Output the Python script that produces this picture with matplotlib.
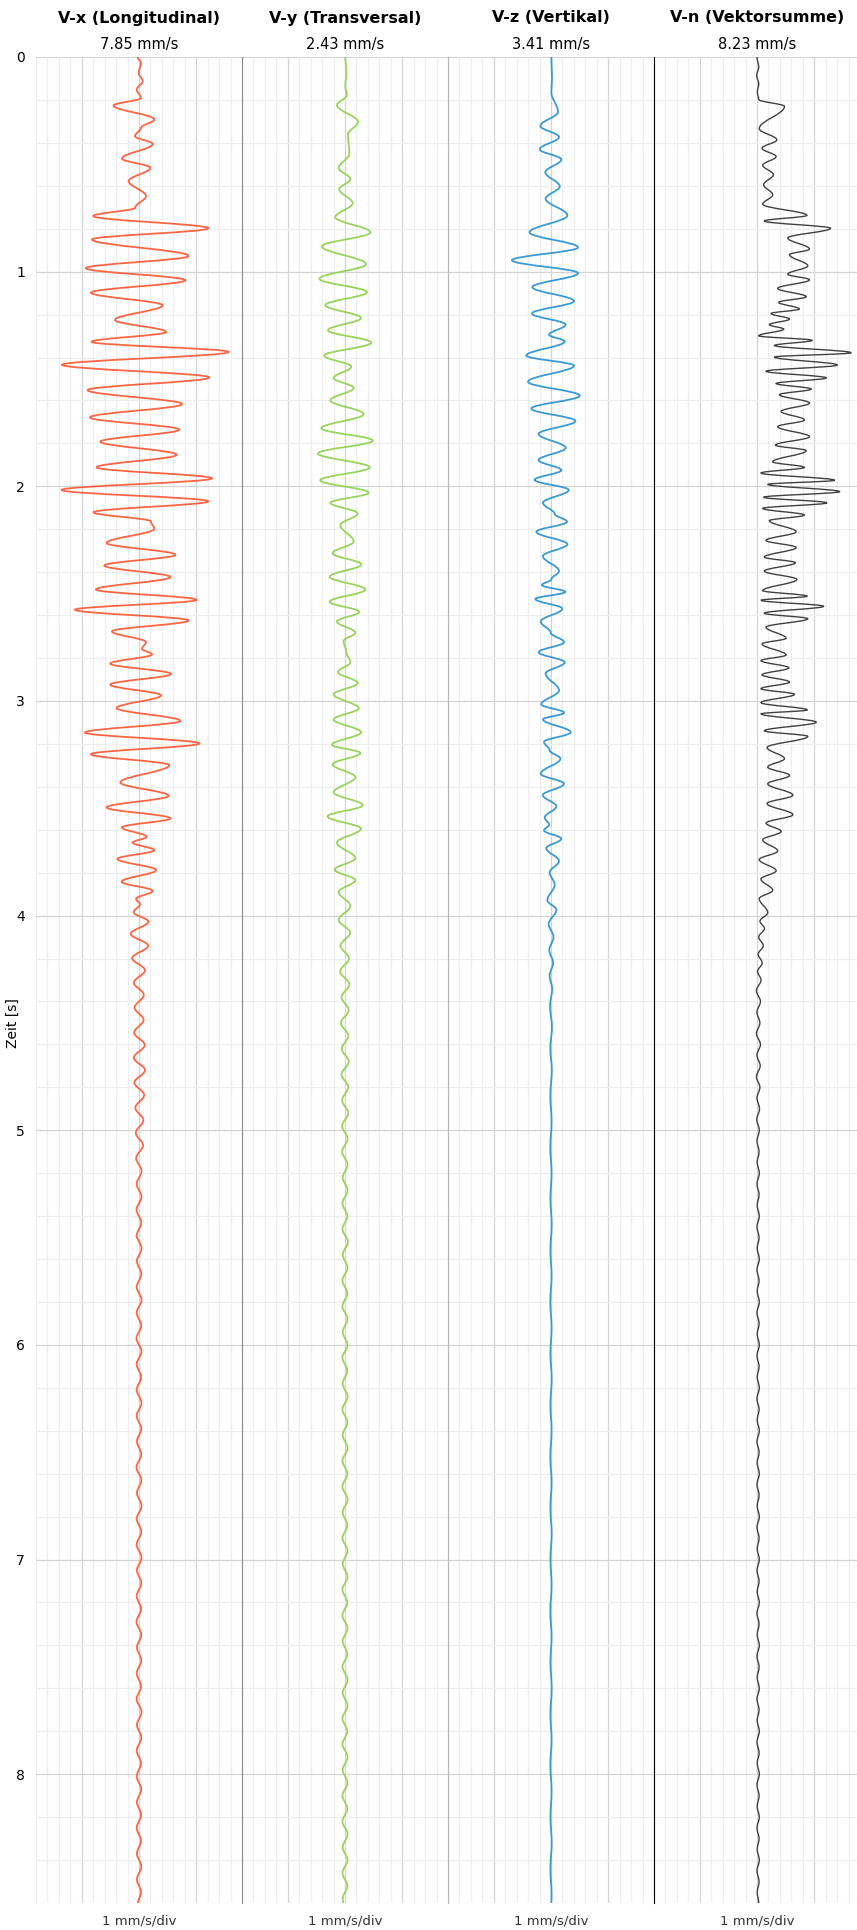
import matplotlib.pyplot as plt
from matplotlib.path import Path
from matplotlib.patches import PathPatch

# Umkehrpunkte der Messkurven: (Zeit [s], Wert [mm/s])
vx = [(0.000, -0.12), (0.028, 0.17), (0.074, -0.03), (0.113, 0.32), (0.152, -0.20), (0.191, 0.17),
      (0.226, -2.22), (0.291, 1.34), (0.330, 0.17), (0.369, -0.35), (0.405, 1.20), (0.473, -1.49),
      (0.516, 0.99), (0.578, -0.90), (0.648, 0.61), (0.702, -0.32), (0.741, -3.99), (0.798, 6.06),
      (0.850, -4.11), (0.927, 4.34), (0.984, -4.64), (1.040, 4.05), (1.098, -4.20), (1.157, 2.07),
      (1.225, -2.10), (1.281, 2.36), (1.327, -4.14), (1.374, 7.85), (1.434, -6.73), (1.493, 6.15),
      (1.552, -4.49), (1.617, 3.76), (1.679, -4.29), (1.736, 3.53), (1.792, -3.38), (1.853, 3.29),
      (1.912, -3.70), (1.963, 6.38), (2.017, -6.76), (2.070, 6.06), (2.121, -3.97), (2.164, 1.05),
      (2.198, 1.34), (2.264, -2.83), (2.319, 3.18), (2.369, -3.03), (2.423, 2.74), (2.481, -3.76),
      (2.529, 5.04), (2.575, -5.60), (2.625, 4.34), (2.676, -2.36), (2.726, 0.61), (2.757, 0.26),
      (2.783, 1.14), (2.826, -2.51), (2.874, 2.80), (2.924, -2.51), (2.974, 1.92), (3.033, -1.95),
      (3.093, 3.62), (3.147, -4.72), (3.198, 5.28), (3.248, -4.20), (3.299, 2.65), (3.380, -1.63),
      (3.442, 2.59), (3.496, -2.83), (3.547, 2.74), (3.589, -1.49), (3.633, 0.67), (3.660, -0.55),
      (3.695, 1.34), (3.736, -1.87), (3.788, 1.49), (3.842, -1.52), (3.885, 1.20), (3.922, -0.26),
      (3.947, 0.09), (3.984, -0.47), (4.028, 0.82), (4.085, -0.72), (4.140, 0.80), (4.198, -0.60),
      (4.255, 0.52), (4.312, -0.45), (4.370, 0.42), (4.428, -0.38), (4.486, 0.40), (4.545, -0.42),
      (4.603, 0.50), (4.662, -0.45), (4.720, 0.52), (4.778, -0.40), (4.836, 0.45), (4.895, -0.32),
      (4.953, 0.38), (5.012, -0.28), (5.070, 0.35), (5.130, -0.25), (5.190, 0.22), (5.250, -0.20),
      (5.310, 0.22), (5.370, -0.22), (5.430, 0.20), (5.490, -0.20), (5.550, 0.22), (5.610, -0.18),
      (5.670, 0.20), (5.730, -0.20), (5.790, 0.22), (5.850, -0.20), (5.910, 0.20), (5.970, -0.22),
      (6.030, 0.22), (6.090, -0.20), (6.150, 0.18), (6.210, -0.20), (6.270, 0.22), (6.330, -0.20),
      (6.390, 0.20), (6.450, -0.18), (6.510, 0.20), (6.570, -0.22), (6.630, 0.20), (6.690, -0.18),
      (6.750, 0.22), (6.810, -0.20), (6.870, 0.20), (6.930, -0.20), (6.990, 0.22), (7.050, -0.18),
      (7.110, 0.20), (7.170, -0.20), (7.230, 0.18), (7.290, -0.22), (7.350, 0.20), (7.410, -0.18),
      (7.470, 0.20), (7.530, -0.20), (7.590, 0.18), (7.650, -0.20), (7.710, 0.22), (7.770, -0.18),
      (7.830, 0.20), (7.890, -0.20), (7.950, 0.18), (8.010, -0.20), (8.070, 0.20), (8.130, -0.18),
      (8.190, 0.18), (8.250, -0.20), (8.310, 0.18), (8.370, -0.18), (8.430, 0.20), (8.490, -0.18),
      (8.550, 0.18), (8.600, -0.08)]

vy = [(0.000, 0.03), (0.073, 0.12), (0.138, 0.03), (0.177, 0.17), (0.224, -0.70), (0.303, 1.14),
      (0.360, 0.26), (0.451, 0.38), (0.517, -0.55), (0.569, 0.47), (0.616, -0.50), (0.681, 0.67),
      (0.746, -0.85), (0.817, 2.22), (0.882, -2.01), (0.965, 1.84), (1.033, -2.24), (1.096, 1.92),
      (1.156, -1.72), (1.216, 1.40), (1.273, -1.49), (1.331, 2.30), (1.391, -1.81), (1.443, 0.55),
      (1.495, -0.99), (1.542, 0.76), (1.599, -1.28), (1.664, 1.63), (1.730, -2.07), (1.787, 2.43),
      (1.847, -2.36), (1.912, 2.16), (1.972, -2.16), (2.030, 2.07), (2.077, -1.28), (2.126, 1.11),
      (2.181, -0.41), (2.257, 0.76), (2.312, -1.08), (2.364, 1.43), (2.421, -1.34), (2.481, 1.78),
      (2.538, -1.34), (2.585, 1.25), (2.630, -0.70), (2.682, 0.90), (2.721, -0.12), (2.773, 0.12),
      (2.820, 0.47), (2.865, -0.61), (2.917, 1.11), (2.969, -0.99), (3.034, 1.20), (3.086, -0.99),
      (3.146, 1.40), (3.204, -1.14), (3.243, 1.34), (3.295, -1.08), (3.355, 0.90), (3.426, -0.99),
      (3.486, 1.55), (3.538, -1.52), (3.595, 1.40), (3.660, -0.70), (3.733, 0.90), (3.786, -0.90),
      (3.835, 0.90), (3.890, -0.55), (3.955, 0.47), (4.020, -0.55), (4.080, 0.45), (4.140, -0.40),
      (4.200, 0.35), (4.260, -0.42), (4.320, 0.38), (4.380, -0.30), (4.440, 0.32), (4.500, -0.35),
      (4.560, 0.30), (4.620, -0.28), (4.680, 0.32), (4.740, -0.30), (4.800, 0.28), (4.860, -0.25),
      (4.920, 0.28), (4.980, -0.25), (5.040, 0.22), (5.100, -0.25), (5.160, 0.22), (5.220, -0.20),
      (5.280, 0.22), (5.340, -0.22), (5.400, 0.20), (5.460, -0.22), (5.520, 0.25), (5.580, -0.20),
      (5.640, 0.22), (5.700, -0.22), (5.760, 0.20), (5.820, -0.22), (5.880, 0.22), (5.940, -0.20),
      (6.000, 0.22), (6.060, -0.22), (6.120, 0.20), (6.180, -0.20), (6.240, 0.22), (6.300, -0.22),
      (6.360, 0.20), (6.420, -0.20), (6.480, 0.22), (6.540, -0.22), (6.600, 0.20), (6.660, -0.22),
      (6.720, 0.22), (6.780, -0.20), (6.840, 0.20), (6.900, -0.22), (6.960, 0.22), (7.020, -0.20),
      (7.080, 0.22), (7.140, -0.22), (7.200, 0.20), (7.260, -0.22), (7.320, 0.22), (7.380, -0.20),
      (7.440, 0.20), (7.500, -0.22), (7.560, 0.22), (7.620, -0.20), (7.680, 0.22), (7.740, -0.22),
      (7.800, 0.20), (7.860, -0.22), (7.920, 0.22), (7.980, -0.20), (8.040, 0.22), (8.100, -0.22),
      (8.160, 0.20), (8.220, -0.22), (8.280, 0.22), (8.340, -0.20), (8.400, 0.22), (8.460, -0.22),
      (8.520, 0.20), (8.580, -0.20), (8.600, -0.15)]

vz = [(0.000, 0.03), (0.099, 0.09), (0.164, 0.03), (0.256, 0.61), (0.321, -0.93), (0.373, 0.70),
      (0.430, -0.99), (0.477, 0.90), (0.537, -0.50), (0.603, 0.76), (0.660, -0.47), (0.738, 1.43),
      (0.817, -1.87), (0.887, 2.36), (0.947, -3.41), (1.007, 2.36), (1.072, -1.63), (1.137, 2.01),
      (1.195, -1.66), (1.247, 1.28), (1.294, -0.17), (1.325, 1.20), (1.391, -2.16), (1.438, 2.01),
      (1.513, -2.01), (1.578, 2.51), (1.638, -1.72), (1.696, 2.13), (1.756, -1.08), (1.821, 1.28),
      (1.878, -1.08), (1.925, 0.90), (1.970, -1.43), (2.017, 1.55), (2.077, -0.70), (2.129, 0.32),
      (2.165, 1.40), (2.212, -1.28), (2.270, 1.43), (2.325, -0.70), (2.395, 0.70), (2.434, 0.03),
      (2.460, -0.79), (2.492, 1.25), (2.525, -1.37), (2.570, 0.99), (2.630, -0.90), (2.682, -0.03),
      (2.726, 1.14), (2.773, -1.08), (2.820, 1.20), (2.872, -0.47), (2.951, 0.70), (3.016, -0.85),
      (3.055, 1.14), (3.086, -0.70), (3.146, 1.72), (3.191, -0.61), (3.230, -0.12), (3.269, 0.82),
      (3.339, -0.90), (3.386, 1.14), (3.439, -0.70), (3.491, 0.47), (3.543, -0.55), (3.577, -0.17),
      (3.603, -0.61), (3.642, 0.90), (3.686, -0.41), (3.746, 0.70), (3.799, -0.12), (3.856, 0.32),
      (3.929, -0.32), (3.973, 0.47), (4.039, -0.20), (4.10, 0.22), (4.16, -0.15), (4.22, 0.18),
      (4.28, -0.12), (4.34, 0.10), (4.42, -0.08), (4.52, 0.08), (4.62, -0.06), (4.72, 0.07),
      (4.84, -0.06), (4.96, 0.05), (5.08, -0.06), (5.20, 0.05), (5.32, -0.05), (5.44, 0.06),
      (5.56, -0.05), (5.68, 0.05), (5.80, -0.06), (5.92, 0.05), (6.04, -0.05), (6.16, 0.06),
      (6.28, -0.05), (6.40, 0.05), (6.52, -0.06), (6.64, 0.05), (6.76, -0.05), (6.88, 0.06),
      (7.00, -0.05), (7.12, 0.05), (7.24, -0.06), (7.36, 0.05), (7.48, -0.05), (7.60, 0.06),
      (7.72, -0.05), (7.84, 0.05), (7.96, -0.06), (8.08, 0.05), (8.20, -0.05), (8.32, 0.06),
      (8.44, -0.05), (8.56, 0.05), (8.60, 0.03)]

vn = [(0.000, 0.00), (0.047, 0.15), (0.086, -0.03), (0.125, 0.15), (0.164, 0.03), (0.198, 0.15),
      (0.230, 2.40), (0.334, 0.20), (0.386, 1.73), (0.425, 0.44), (0.464, 1.67), (0.504, 0.50),
      (0.548, 1.43), (0.595, 0.58), (0.642, 1.37), (0.686, 0.50), (0.738, 4.36), (0.764, 0.64),
      (0.798, 6.43), (0.843, 2.69), (0.895, 4.59), (0.921, 2.84), (0.973, 4.44), (1.012, 2.69),
      (1.038, 4.59), (1.078, 1.81), (1.117, 4.30), (1.143, 1.90), (1.174, 3.71), (1.195, 1.23),
      (1.221, 2.84), (1.247, 1.08), (1.268, 2.34), (1.299, 0.15), (1.320, 4.82), (1.344, 1.52),
      (1.378, 8.23), (1.398, 1.52), (1.435, 7.02), (1.464, 0.79), (1.495, 6.05), (1.521, 1.67),
      (1.547, 4.74), (1.573, 1.96), (1.612, 4.59), (1.651, 2.11), (1.691, 4.15), (1.722, 1.81),
      (1.769, 4.59), (1.808, 1.61), (1.834, 4.30), (1.886, 1.37), (1.912, 4.15), (1.938, 0.35),
      (1.972, 6.78), (1.991, 0.94), (2.025, 7.22), (2.051, 0.58), (2.077, 6.11), (2.103, 0.50),
      (2.134, 4.15), (2.160, 1.08), (2.212, 3.42), (2.252, 0.79), (2.285, 3.42), (2.330, 0.64),
      (2.356, 3.36), (2.395, 0.64), (2.434, 3.48), (2.486, 0.50), (2.512, 4.39), (2.531, 0.35),
      (2.559, 5.82), (2.591, 0.64), (2.617, 4.44), (2.656, 0.79), (2.708, 2.54), (2.734, 0.44),
      (2.786, 2.54), (2.812, 0.35), (2.846, 2.78), (2.878, 0.44), (2.912, 2.84), (2.943, 0.35),
      (2.969, 3.27), (3.008, 0.35), (3.042, 4.39), (3.060, 0.35), (3.099, 5.18), (3.139, 0.64),
      (3.165, 4.44), (3.217, 0.88), (3.269, 2.40), (3.308, 0.94), (3.347, 2.84), (3.386, 0.94),
      (3.439, 3.13), (3.478, 0.88), (3.530, 3.13), (3.569, 0.79), (3.608, 2.11), (3.647, 0.50),
      (3.699, 1.81), (3.739, 0.20), (3.791, 1.67), (3.830, 0.35), (3.882, 1.37), (3.921, 0.20),
      (3.986, 0.94), (4.026, 0.26), (4.06, 0.65), (4.10, 0.15), (4.14, 0.55), (4.18, 0.10),
      (4.22, 0.45), (4.26, 0.05), (4.30, 0.35), (4.35, -0.05), (4.40, 0.30), (4.45, 0.00),
      (4.50, 0.25), (4.55, -0.05), (4.60, 0.30), (4.65, 0.00), (4.70, 0.28), (4.75, -0.05),
      (4.80, 0.25), (4.85, 0.00), (4.90, 0.22), (4.95, -0.02), (5.00, 0.20), (5.05, 0.00),
      (5.10, 0.18), (5.15, 0.02), (5.20, 0.20), (5.25, 0.00), (5.30, 0.18), (5.35, 0.02),
      (5.40, 0.20), (5.45, 0.00), (5.50, 0.18), (5.55, 0.02), (5.60, 0.20), (5.65, 0.00),
      (5.70, 0.18), (5.75, 0.02), (5.80, 0.20), (5.85, 0.00), (5.90, 0.18), (5.95, 0.02),
      (6.00, 0.20), (6.05, 0.00), (6.10, 0.18), (6.15, 0.02), (6.20, 0.20), (6.25, 0.00),
      (6.30, 0.18), (6.35, 0.02), (6.40, 0.20), (6.45, 0.00), (6.50, 0.18), (6.55, 0.02),
      (6.60, 0.20), (6.65, 0.00), (6.70, 0.18), (6.75, 0.02), (6.80, 0.20), (6.85, 0.00),
      (6.90, 0.18), (6.95, 0.02), (7.00, 0.20), (7.05, 0.00), (7.10, 0.18), (7.15, 0.02),
      (7.20, 0.20), (7.25, 0.00), (7.30, 0.18), (7.35, 0.02), (7.40, 0.20), (7.45, 0.00),
      (7.50, 0.18), (7.55, 0.02), (7.60, 0.20), (7.65, 0.00), (7.70, 0.18), (7.75, 0.02),
      (7.80, 0.20), (7.85, 0.00), (7.90, 0.18), (7.95, 0.02), (8.00, 0.20), (8.05, 0.00),
      (8.10, 0.18), (8.15, 0.02), (8.20, 0.20), (8.25, 0.00), (8.30, 0.18), (8.35, 0.02),
      (8.40, 0.20), (8.45, 0.00), (8.50, 0.18), (8.55, 0.02), (8.60, 0.15)]

titel = ['V-x (Longitudinal)', 'V-y (Transversal)', 'V-z (Vertikal)', 'V-n (Vektorsumme)']
spitzen = ['7.85 mm/s', '2.43 mm/s', '3.41 mm/s', '8.23 mm/s']
farben = ['#ff6544', '#98d45c', '#3a9ad4', '#404040']
linien = [1.3, 1.3, 1.3, 1.0]
kurven = [vx, vy, vz, vn]
trenn = [None, '#8c8c8c', '#b5b5b5', '#000000']

W, H = 857, 1930
t_max = 8.59


def kurve(punkte):
    """Glatte Kurve durch die Umkehrpunkte (senkrechte Tangenten)"""
    verts = [(punkte[0][1], punkte[0][0])]
    codes = [Path.MOVETO]
    for (t0, v0), (t1, v1) in zip(punkte[:-1], punkte[1:]):
        d = (t1 - t0) * 0.36
        verts += [(v0, t0 + d), (v1, t1 - d), (v1, t1)]
        codes += [Path.CURVE4] * 3
    return Path(verts, codes)


fig = plt.figure(figsize=(W / 100, H / 100), dpi=100)
fig.patch.set_facecolor('white')

for i in range(4):
    links = 36 + 206 * i
    ax = fig.add_axes([links / W, 1 - 1903 / H, 206 / W, 1846 / H])
    ax.set_xlim(-9, 9)
    ax.set_ylim(t_max, 0)
    ax.set_xticks([-5, 0, 5])
    ax.set_xticks(range(-9, 10), minor=True)
    ax.set_yticks(range(0, 9))
    ax.set_yticks([k * 0.2 for k in range(0, 44)], minor=True)
    ax.grid(which='major', color='#d4d4d4', lw=0.9)
    ax.grid(which='minor', color='#eeeeee', lw=0.9)
    ax.set_axisbelow(True)
    ax.tick_params(which='both', length=0, labelbottom=False)
    if i > 0:
        ax.tick_params(labelleft=False)
    else:
        ax.tick_params(labelsize=10, pad=8)
    for s in ['top', 'right', 'bottom', 'left']:
        ax.spines[s].set_visible(False)
    if trenn[i]:
        ax.spines['left'].set_visible(True)
        ax.spines['left'].set_color(trenn[i])
        ax.spines['left'].set_linewidth(0.8)

    ax.add_patch(PathPatch(kurve(kurven[i]), fill=False, edgecolor=farben[i], lw=linien[i], zorder=3))

    mitte = (links + 103) / W
    fig.text(mitte, 1 - 18 / H, titel[i], ha='center', va='center', fontsize=11.5, fontweight='bold')
    fig.text(mitte, 1 - 44 / H, spitzen[i], ha='center', va='center', fontsize=10.5)
    fig.text(mitte, 1 - 1921 / H, '1 mm/s/div', ha='center', va='center', fontsize=9.5, color='#333333')

fig.text(13 / W, 1 - 1023 / H, 'Zeit [s]', rotation=90, ha='center', va='center', fontsize=10)

plt.savefig('out.png', dpi=100)
